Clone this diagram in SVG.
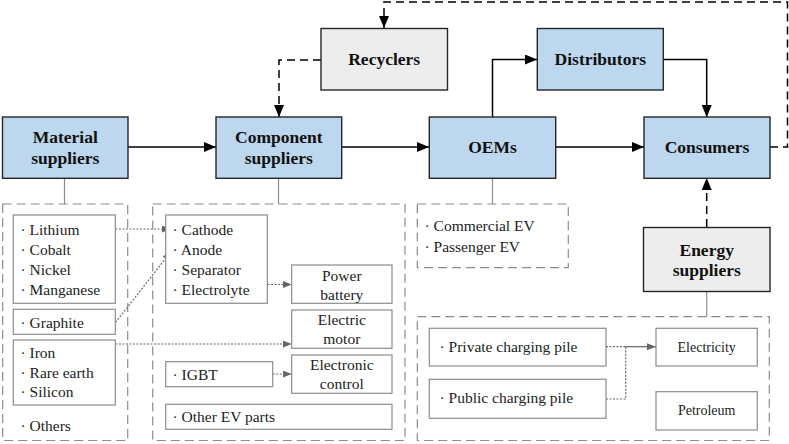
<svg xmlns="http://www.w3.org/2000/svg" width="789" height="444" viewBox="0 0 789 444" font-family="Liberation Serif, Times New Roman, DejaVu Serif, serif">
<defs>
<style>
.node{stroke:#262626;stroke-width:1.4}
.blue{fill:#bdd7ee}
.grayf{fill:#ededed}
.nt{font-weight:bold;font-size:17.5px;fill:#111;text-anchor:middle}
.t{font-size:15.5px;fill:#222}
.tc{font-size:15.5px;fill:#222;text-anchor:middle}
.ts{font-size:14px;fill:#222;text-anchor:middle}
.grp{fill:none;stroke:#8c8c8c;stroke-width:1.2;stroke-dasharray:9 5}
.ib{fill:#fff;stroke:#8c8c8c;stroke-width:1.2}
.main{fill:none;stroke:#000;stroke-width:1.5}
.dash{fill:none;stroke:#000;stroke-width:1.5;stroke-dasharray:8 5}
.tie{fill:none;stroke:#8c8c8c;stroke-width:1.2}
.dot{fill:none;stroke:#666;stroke-width:1.2;stroke-dasharray:2 1.5}
.gl{fill:none;stroke:#666;stroke-width:1.2}
</style>
<marker id="ah" markerWidth="12" markerHeight="10" refX="12" refY="5" orient="auto" markerUnits="userSpaceOnUse"><path d="M0,0 L12,5 L0,10 z" fill="#000"/></marker>
<marker id="ag" markerWidth="9" markerHeight="7" refX="9" refY="3.5" orient="auto" markerUnits="userSpaceOnUse"><path d="M0,0 L9,3.5 L0,7 z" fill="#666"/></marker>
</defs>

<g id="connectors">
<line class="main" x1="128" y1="147" x2="216" y2="147" marker-end="url(#ah)"/>
<line class="main" x1="342" y1="147" x2="429" y2="147" marker-end="url(#ah)"/>
<line class="main" x1="556" y1="147" x2="644" y2="147" marker-end="url(#ah)"/>
<path class="main" d="M492.5,117 V59.5 H537" marker-end="url(#ah)"/>
<path class="main" d="M663.5,59.5 H706.7 V117" marker-end="url(#ah)"/>
<path class="dash" d="M770,147 H787.5 V2 H384 V28" marker-end="url(#ah)"/>
<path class="dash" d="M321,60 H279 V117" marker-end="url(#ah)"/>
<path class="dash" d="M706.7,227 V178" marker-end="url(#ah)"/>
<line class="tie" x1="64.5" y1="178" x2="64.5" y2="204"/>
<line class="tie" x1="278.5" y1="178" x2="278.5" y2="204"/>
<line class="tie" x1="492.5" y1="178" x2="492.5" y2="204"/>
<line class="tie" x1="706.7" y1="292" x2="706.7" y2="317"/>
<line class="dot" x1="115.5" y1="229" x2="171" y2="229" marker-end="url(#ag)"/>
<line class="dot" x1="115.5" y1="322.5" x2="171" y2="251.5" marker-end="url(#ag)"/>
<line class="dot" x1="267.5" y1="284.5" x2="291.7" y2="284.5" marker-end="url(#ag)"/>
<line class="dot" x1="115.5" y1="344" x2="291.7" y2="344" marker-end="url(#ag)"/>
<line class="dot" x1="272.7" y1="374" x2="291.7" y2="374" marker-end="url(#ag)"/>
<path class="dot" d="M606,346.7 H625.7"/>
<path class="dot" d="M606,399 H625.7 V346.7"/>
<line class="gl" x1="625.7" y1="346.7" x2="656" y2="346.7" marker-end="url(#ag)"/>
</g>

<g id="recyclers"><rect class="node grayf" x="321" y="28.5" width="126.5" height="61.5"/><text class="nt" x="384.2" y="65">Recyclers</text></g>
<g id="distributors"><rect class="node blue" x="537.3" y="28.5" width="126" height="61.5"/><text class="nt" x="600.3" y="65">Distributors</text></g>
<g id="material-suppliers"><rect class="node blue" x="2.5" y="117" width="125.5" height="61.3"/><text class="nt" x="65.2" y="143">Material</text><text class="nt" x="65.2" y="163.5">suppliers</text></g>
<g id="component-suppliers"><rect class="node blue" x="216" y="117" width="125.7" height="61.3"/><text class="nt" x="278.8" y="143">Component</text><text class="nt" x="278.8" y="163.5">suppliers</text></g>
<g id="oems"><rect class="node blue" x="429.3" y="117" width="126.4" height="61.3"/><text class="nt" x="492.5" y="153.3">OEMs</text></g>
<g id="consumers"><rect class="node blue" x="644" y="117" width="126" height="61.3"/><text class="nt" x="707" y="153.3">Consumers</text></g>
<g id="energy-suppliers"><rect class="node grayf" x="643.5" y="227.5" width="126.5" height="64"/><text class="nt" x="706.7" y="255.7">Energy</text><text class="nt" x="706.7" y="276">suppliers</text></g>

<g id="material-group">
<rect class="grp" x="2.7" y="204" width="125" height="236.5"/>
<rect class="ib" x="13.3" y="215" width="102" height="88.3"/>
<text class="t" x="20.5" y="235">· Lithium</text>
<text class="t" x="20.5" y="255">· Cobalt</text>
<text class="t" x="20.5" y="274.5">· Nickel</text>
<text class="t" x="20.5" y="294.5">· Manganese</text>
<rect class="ib" x="13.3" y="309.3" width="102" height="25"/>
<text class="t" x="20.5" y="328">· Graphite</text>
<rect class="ib" x="13.3" y="340" width="102" height="65"/>
<text class="t" x="20.5" y="358.3">· Iron</text>
<text class="t" x="20.5" y="377.5">· Rare earth</text>
<text class="t" x="20.5" y="397.3">· Silicon</text>
<text class="t" x="20.5" y="430.5">· Others</text>
</g>

<g id="component-group">
<rect class="grp" x="152.7" y="204" width="252.3" height="236.5"/>
<rect class="ib" x="165.7" y="215" width="101.6" height="88.3"/>
<text class="t" x="172.5" y="235">· Cathode</text>
<text class="t" x="172.5" y="255">· Anode</text>
<text class="t" x="172.5" y="274.5">· Separator</text>
<text class="t" x="172.5" y="294.5">· Electrolyte</text>
<rect class="ib" x="291.7" y="265" width="100.3" height="38.3"/>
<text class="tc" x="341.8" y="280.7">Power</text>
<text class="tc" x="341.8" y="300">battery</text>
<rect class="ib" x="291.7" y="310" width="100.3" height="38.3"/>
<text class="tc" x="341.8" y="324.5">Electric</text>
<text class="tc" x="341.8" y="344">motor</text>
<rect class="ib" x="165.7" y="361.7" width="107" height="25"/>
<text class="t" x="172.5" y="379.5">· IGBT</text>
<rect class="ib" x="291.7" y="355" width="100.3" height="38.3"/>
<text class="tc" x="341.8" y="370">Electronic</text>
<text class="tc" x="341.8" y="389.3">control</text>
<rect class="ib" x="165.7" y="404.3" width="226.3" height="25"/>
<text class="t" x="172.5" y="422.3">· Other EV parts</text>
</g>

<g id="oem-group">
<rect class="grp" x="417.3" y="204" width="151" height="63.7"/>
<text class="t" x="424.5" y="230.7">· Commercial EV</text>
<text class="t" x="424.5" y="251.7">· Passenger EV</text>
</g>

<g id="energy-group">
<rect class="grp" x="417.3" y="316.7" width="352" height="123.8"/>
<rect class="ib" x="429.3" y="328.3" width="176.7" height="37.7"/>
<text class="t" x="439.5" y="351.7">· Private charging pile</text>
<rect class="ib" x="429.3" y="379.3" width="176.7" height="39"/>
<text class="t" x="439.5" y="403.3">· Public charging pile</text>
<rect class="ib" x="656" y="328.3" width="101.3" height="37.7"/>
<text class="ts" x="706.7" y="351.7">Electricity</text>
<rect class="ib" x="656" y="391.7" width="101.3" height="38.3"/>
<text class="ts" x="706.7" y="415">Petroleum</text>
</g>
</svg>
